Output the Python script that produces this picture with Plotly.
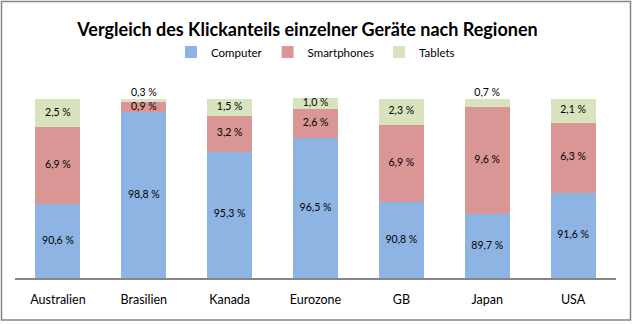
import plotly.graph_objects as go

regions = ["Australien", "Brasilien", "Kanada", "Eurozone", "GB", "Japan", "USA"]
computer = [90.6, 98.8, 95.3, 96.5, 90.8, 89.7, 91.6]
smartphones = [6.9, 0.9, 3.2, 2.6, 6.9, 9.6, 6.3]
tablets = [2.5, 0.3, 1.5, 1.0, 2.3, 0.7, 2.1]

series_names = ["Computer", "Smartphones", "Tablets"]
colors = ["#8EB4E3", "#D99694", "#D7E4BD"]

y_min, y_max = 84, 101.52
FONT = "Lato"

def fmt(v):
    return f"{v:.1f}".replace(".", ",") + " %"

fig = go.Figure()
for name, vals, col in zip(series_names, [computer, smartphones, tablets], colors):
    fig.add_trace(go.Bar(
        x=regions, y=vals, name=name, marker=dict(color=col, line=dict(width=0)),
        hoverinfo="skip",
    ))

# label positions (centre of visible segment)
lx, ly, lt = [], [], []
for i, r in enumerate(regions):
    c, s, t = computer[i], smartphones[i], tablets[i]
    lx.append(r); ly.append((max(y_min, 0) + c) / 2); lt.append(fmt(c))
    lx.append(r); ly.append(c + s / 2); lt.append(fmt(s))
    top = c + s
    lx.append(r); ly.append(top + t / 2 if t >= 0.9 else top + t + 0.5); lt.append(fmt(t))

fig.add_trace(go.Scatter(
    x=lx, y=ly, text=lt, mode="text", showlegend=False, hoverinfo="skip",
    textfont=dict(family=FONT, size=10.5, color="#000000"), cliponaxis=False,
))

PH = 324 - 82 - 46
fig.update_layout(
    width=632, height=324,
    margin=dict(l=15, r=16, t=82, b=46),
    barmode="stack", bargap=0.476,
    paper_bgcolor="white", plot_bgcolor="white",
    font=dict(family=FONT, color="#000000"),
    title=dict(text="<b>Vergleich des Klickanteils einzelner Geräte nach Regionen</b>",
               x=307.5 / 632, xanchor="center", y=1 - 30 / 324, yanchor="middle",
               font=dict(family=FONT, size=18, color="#000000")),
    legend=dict(orientation="h", x=0.5, xanchor="center", y=1 + 30 / PH, yanchor="middle",
                font=dict(family=FONT, size=11.5), traceorder="normal",
                itemwidth=30, tracegroupgap=0),
    xaxis=dict(showline=True, linecolor="#868686", linewidth=1.5, ticks="",
               ticklabelstandoff=9,
               tickfont=dict(family=FONT, size=12.5), showgrid=False, fixedrange=True),
    yaxis=dict(range=[y_min, y_max], visible=False, showgrid=False, fixedrange=True),
    shapes=[dict(type="rect", xref="paper", yref="paper",
                 x0=-13.5 / 601, x1=1 + 14.5 / 601, y0=-42 / PH, y1=1 + 80.5 / PH,
                 line=dict(color="#868686", width=1.5), fillcolor="rgba(0,0,0,0)", layer="below")],
)

fig.write_html("out.html")
